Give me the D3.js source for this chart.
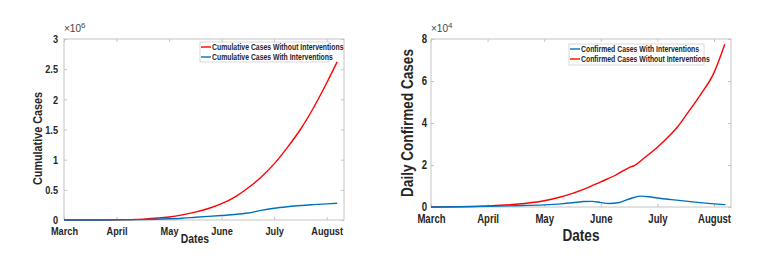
<!DOCTYPE html>
<html>
<head>
<meta charset="utf-8">
<script src="https://cdn.jsdelivr.net/npm/d3@7"></script>
<style>
  body { margin: 0; background: #fff; }
  svg { display: block; }
  text { font-family: "Liberation Sans", Arial, sans-serif; }
</style>
</head>
<body>
<svg id="chart" width="766" height="265"></svg>
<script>
// month ticks (x is month index from March)
const months = ["March", "April", "May", "June", "July", "August"];

// left panel: cumulative cases (x10^6)
const cumT = [0, 0.5, 1, 1.5, 2, 2.25, 2.5, 2.75, 3, 3.25, 3.5, 3.75, 4, 4.25, 4.5, 4.75, 5, 5.2];
const cumWithout = [0, 0.0005, 0.003, 0.015, 0.05, 0.085, 0.13, 0.19, 0.27, 0.38, 0.53, 0.71, 0.93, 1.2, 1.5, 1.86, 2.27, 2.62];
const cumWith = [0, 0.0003, 0.002, 0.007, 0.02, 0.03, 0.045, 0.06, 0.075, 0.09, 0.115, 0.16, 0.195, 0.22, 0.24, 0.255, 0.268, 0.278];
const cumTicks = [0, 0.5, 1, 1.5, 2, 2.5, 3];

// right panel: daily confirmed cases (x10^4)
const dailyRedT = [0, 0.5, 1, 1.5, 2, 2.25, 2.5, 2.75, 3, 3.25, 3.5, 3.6, 3.75, 4, 4.25, 4.35, 4.5, 4.75, 5, 5.19];
const dailyWithout = [0, 0.01, 0.05, 0.13, 0.3, 0.45, 0.65, 0.9, 1.2, 1.5, 1.88, 1.98, 2.3, 2.85, 3.5, 3.8, 4.35, 5.3, 6.4, 7.75];
const dailyBlueT = [0, 1, 1.5, 2, 2.3, 2.5, 2.7, 2.85, 3.0, 3.15, 3.3, 3.5, 3.7, 3.85, 4.0, 4.25, 4.5, 4.75, 5.0, 5.2];
const dailyWith = [0, 0.03, 0.06, 0.1, 0.15, 0.2, 0.26, 0.27, 0.21, 0.17, 0.2, 0.38, 0.52, 0.49, 0.43, 0.35, 0.28, 0.21, 0.15, 0.11];
const dailyTicks = [0, 2, 4, 6, 8];

const RED = "#ff0000", BLUE = "#0072bd", AXIS = "#c4c4c4", TXT = "#262626";
const K = 0.8; // horizontal squeeze, stands in for a narrow font

const svg = d3.select("#chart");

// squeeze texts horizontally around their own x
function narrow(sel) {
  sel.each(function() {
    const t = d3.select(this);
    const x = +t.attr("x") || 0;
    t.attr("x", x / K).attr("transform", (t.attr("transform") || "") + " scale(" + K + ",1)");
  });
}

function panel(o) {
  const g = svg.append("g").attr("transform", "translate(" + o.left + "," + o.top + ")");
  const x = d3.scaleLinear().domain([0, o.xmax]).range([0, o.w]);
  const y = d3.scaleLinear().domain([0, o.ymax]).range([o.h, 0]);

  // box + inward ticks
  g.append("rect").attr("width", o.w).attr("height", o.h)
    .attr("fill", "none").attr("stroke", AXIS).attr("stroke-width", 1);
  const xb = g.append("g").attr("transform", "translate(0," + o.h + ")")
    .call(d3.axisBottom(x).tickValues(d3.range(months.length)).tickFormat(i => months[i]).tickSize(-3).tickPadding(7));
  const xt = g.append("g").call(d3.axisTop(x).tickValues(d3.range(months.length)).tickFormat("").tickSize(-3));
  const yl = g.append("g").call(d3.axisLeft(y).tickValues(o.ticks).tickFormat(d => d).tickSize(-3).tickPadding(o.ypad));
  const yr = g.append("g").attr("transform", "translate(" + o.w + ",0)")
    .call(d3.axisRight(y).tickValues(o.ticks).tickFormat("").tickSize(-3));
  [xb, xt, yl, yr].forEach(a => {
    a.select(".domain").remove();
    a.selectAll("line").attr("stroke", AXIS);
    a.selectAll("text").attr("fill", TXT).attr("font-weight", "bold")
      .attr("font-size", o.tickFs + "px")
      .style("font-family", '"Liberation Sans", Arial, sans-serif')
      .call(narrow);
  });

  const line = d3.line().x(d => x(d[0])).y(d => y(d[1])).curve(d3.curveMonotoneX);
  o.series.forEach(s => {
    g.append("path").datum(d3.zip(s.t, s.v)).attr("d", line)
      .attr("fill", "none").attr("stroke", s.color).attr("stroke-width", 1.4);
  });

  // exponent
  const ex = g.append("text").attr("x", 0).attr("y", -7).attr("fill", "#444")
    .attr("font-size", "10px");
  ex.append("tspan").text("\u00d710");
  ex.append("tspan").attr("dy", -4).attr("font-size", "8px").text(o.exp);

  // legend
  const lg = g.append("g").attr("transform", "translate(" + o.lx + "," + o.ly + ")");
  lg.append("rect").attr("width", o.lw).attr("height", o.lh)
    .attr("fill", "#fff").attr("stroke", "#cfcfcf").attr("stroke-width", 0.8);
  o.legend.forEach((s, i) => {
    const yy = 5 + i * 10;
    lg.append("line").attr("x1", 1).attr("x2", 11).attr("y1", yy).attr("y2", yy)
      .attr("stroke", s.color).attr("stroke-width", 1.4);
    lg.append("text").attr("x", 12).attr("y", yy).attr("dy", "0.35em")
      .attr("font-size", "8.6px").attr("font-weight", "bold").attr("fill", TXT).text(s.label)
      .call(narrow);
  });

  // axis titles
  g.append("text").attr("x", o.xlx).attr("y", o.xly).attr("text-anchor", "middle")
    .attr("font-weight", "bold").attr("font-size", o.xlFs + "px").attr("fill", TXT).text("Dates")
    .call(narrow);
  g.append("text").attr("transform", "translate(" + o.ylx + "," + (o.h / 2 + o.yly) + ") rotate(-90) scale(" + K + ",1)")
    .attr("text-anchor", "middle").attr("dy", "0.35em")
    .attr("font-weight", "bold").attr("font-size", o.ylFs + "px").attr("fill", TXT).text(o.ylabel);
}

panel({
  left: 64, top: 39, w: 280, h: 181, xmax: 5.33, ymax: 3, ticks: cumTicks, exp: "6", tickFs: 11.5, ypad: 6,
  series: [{t: cumT, v: cumWithout, color: RED}, {t: cumT, v: cumWith, color: BLUE}],
  legend: [{label: "Cumulative Cases Without Interventions", color: RED},
           {label: "Cumulative Cases With Interventions", color: BLUE}],
  lx: 136, ly: 3, lw: 129, lh: 20,
  xlx: 131, xly: 23 + 181, xlFs: 13, ylx: -27, yly: 9, ylFs: 13.5, ylabel: "Cumulative Cases"
});

panel({
  left: 431, top: 39, w: 300, h: 168, xmax: 5.3, ymax: 8, ticks: dailyTicks, exp: "4", tickFs: 12, ypad: 4,
  series: [{t: dailyRedT, v: dailyWithout, color: RED}, {t: dailyBlueT, v: dailyWith, color: BLUE}],
  legend: [{label: "Confirmed Cases With Interventions", color: BLUE},
           {label: "Confirmed Cases Without Interventions", color: RED}],
  lx: 138, ly: 5, lw: 135, lh: 21,
  xlx: 150, xly: 34 + 168, xlFs: 17, ylx: -24, yly: 0, ylFs: 17, ylabel: "Daily Confirmed Cases"
});
</script>
</body>
</html>
